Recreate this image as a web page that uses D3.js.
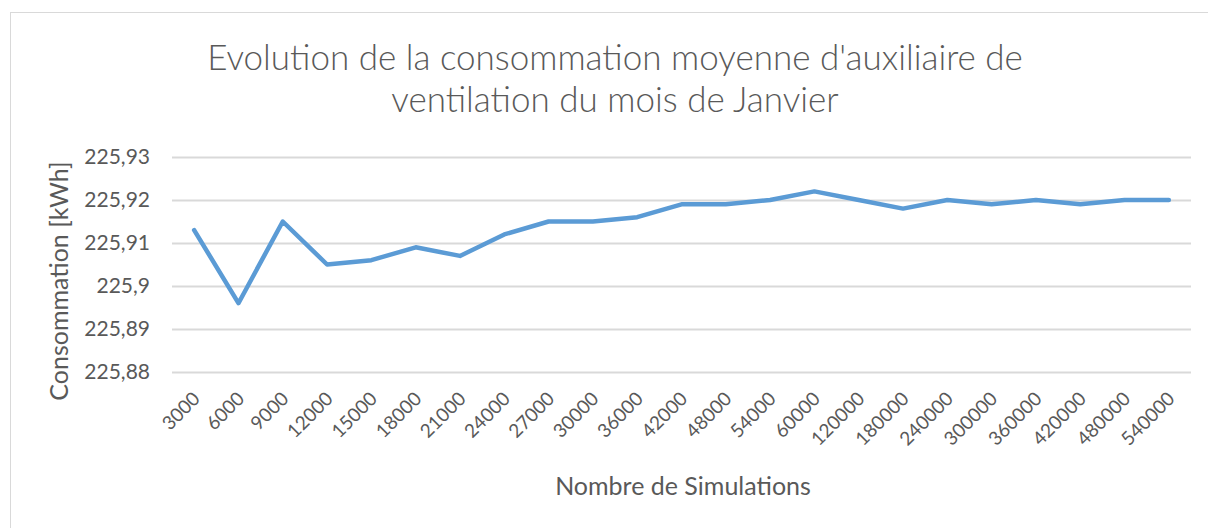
<!DOCTYPE html>
<html>
<head>
<meta charset="utf-8">
<script src="https://cdn.jsdelivr.net/npm/d3@7"></script>
<style>
  body { margin: 0; background: #fff; }
  text { font-family: Lato, "Open Sans", sans-serif; fill: #595959; }
</style>
</head>
<body>
<svg id="chart" width="1208" height="528"></svg>
<script>
'use strict';

// number of simulations (categories of the x axis)
const simulations = ['3000', '6000', '9000', '12000', '15000', '18000', '21000', '24000',
  '27000', '30000', '36000', '42000', '48000', '54000', '60000', '120000', '180000',
  '240000', '300000', '360000', '420000', '480000', '540000'];

// mean consumption [kWh]
const consumption = [225.913, 225.896, 225.915, 225.905, 225.906, 225.909, 225.907, 225.912,
  225.915, 225.915, 225.916, 225.919, 225.919, 225.920, 225.922, 225.920, 225.918,
  225.920, 225.919, 225.920, 225.919, 225.920, 225.920];

const yTicks = [225.88, 225.89, 225.90, 225.91, 225.92, 225.93];

const titleLines = ["Evolution de la consommation moyenne d'auxiliaire de",
  'ventilation du mois de Janvier'];

const margin = { top: 157, right: 17, bottom: 156, left: 172 };
const width = 1208, height = 528;

const svg = d3.select('#chart');

/* chart frame */
svg.append('rect')
  .attr('x', 10.5).attr('y', 12.5)
  .attr('width', 1220).attr('height', 540)
  .attr('fill', 'none').attr('stroke', '#d9d9d9').attr('stroke-width', 1);

const X = d3.scaleBand()
  .domain(simulations)
  .range([margin.left, width - margin.right]);

const Y = d3.scaleLinear()
  .domain([225.88, 225.93])
  .range([height - margin.bottom, margin.top]);

/* gridlines + y labels */
const yAxis = d3.axisLeft(Y)
  .tickValues(yTicks)
  .tickSize(-(width - margin.left - margin.right))
  .tickPadding(22)
  .tickFormat(d => d3.format('.2f')(d).replace(/0+$/, '').replace('.', ','));

svg.append('g')
  .attr('transform', 'translate(' + margin.left + ',0)')
  .call(yAxis)
  .call(g => g.select('.domain').remove())
  .call(g => g.selectAll('.tick line').attr('stroke', '#d9d9d9').attr('stroke-width', 2))
  .call(g => g.selectAll('.tick text').style('font-size', '21px').attr('fill', '#595959'));

/* x labels */
const xAxis = d3.axisBottom(X).tickSize(0).tickPadding(0);
svg.append('g')
  .attr('transform', 'translate(0,' + (height - margin.bottom) + ')')
  .call(xAxis)
  .call(g => g.select('.domain').remove())
  .call(g => g.selectAll('.tick text')
    .style('font-size', '19px')
    .attr('fill', '#595959')
    .attr('text-anchor', 'end')
    .attr('dy', 0)
    .attr('transform', 'translate(7,28) rotate(-45)'));

/* the series */
const line = d3.line()
  .x((d, i) => X(simulations[i]) + X.bandwidth() / 2)
  .y(d => Y(d));

svg.append('path')
  .datum(consumption)
  .attr('d', line)
  .attr('fill', 'none')
  .attr('stroke', '#5b9bd5')
  .attr('stroke-width', 4.5)
  .attr('stroke-linejoin', 'round')
  .attr('stroke-linecap', 'round');

/* titles */
svg.selectAll('.title')
  .data(titleLines)
  .enter().append('text')
  .attr('class', 'title')
  .attr('x', 615)
  .attr('y', (d, i) => 70 + i * 42)
  .attr('text-anchor', 'middle')
  .style('font-size', '35px')
  .style('font-weight', 300)
  .text(d => d);

svg.append('text')
  .attr('x', 683).attr('y', 495)
  .attr('text-anchor', 'middle')
  .style('font-size', '25px')
  .text('Nombre de Simulations');

svg.append('text')
  .attr('transform', 'translate(68,281) rotate(-90)')
  .attr('text-anchor', 'middle')
  .style('font-size', '25px')
  .text('Consommation [kWh]');
</script>
</body>
</html>
